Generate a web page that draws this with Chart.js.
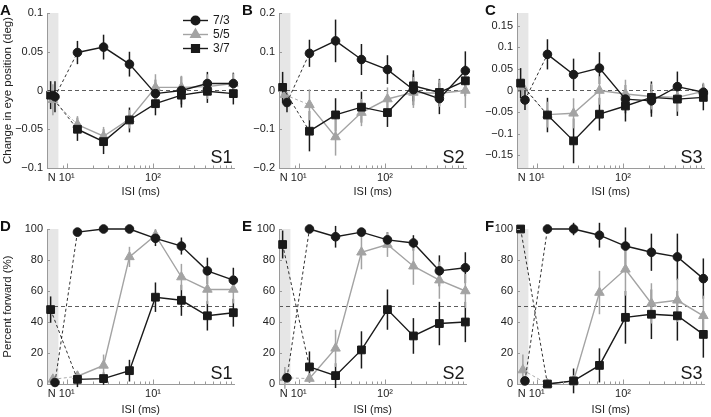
<!DOCTYPE html>
<html lang="en">
<head>
<meta charset="UTF-8">
<title>Eye position and percent forward vs ISI</title>
<script src="https://cdn.jsdelivr.net/npm/chart.js@4"></script>
<style>
  body { margin: 0; background: #fff; }
  #wrap { position: relative; width: 711px; height: 417px; overflow: hidden; font-family: "Liberation Sans", Arial, sans-serif; }
  #wrap canvas { position: absolute; }
  .letter { position: absolute; font-weight: bold; font-size: 15px; line-height: 15px; color: #111; }
</style>
</head>
<body>
<div id="wrap">
  <canvas id="cA"></canvas><canvas id="cB"></canvas><canvas id="cC"></canvas>
  <canvas id="cD"></canvas><canvas id="cE"></canvas><canvas id="cF"></canvas>
  <div class="letter" style="left:0px;top:2px">A</div>
  <div class="letter" style="left:242px;top:2px">B</div>
  <div class="letter" style="left:485px;top:2px">C</div>
  <div class="letter" style="left:0px;top:218px">D</div>
  <div class="letter" style="left:242px;top:218px">E</div>
  <div class="letter" style="left:485px;top:218px">F</div>
</div>
<script>
// ISI values (ms) and the x position used for the "N" condition of each series
const isi = [13.3, 26.7, 53.3, 106.7, 213.3, 426.7, 853.3];
const nX = { c73: 7.3, t55: 6.9, s37: 6.5 };
const shadeMax = 8;
const xMinorTicks = [9, 20, 30, 40, 50, 60, 70, 80, 90, 200, 300, 400, 500, 600, 700, 800];
const xMajorTicks = [10, 100];
const xLabelTicks = [6.7, 10, 100];

// first value of each series = N condition, then one value per ISI
// A: change in eye position, S1
const a73 = [-0.008, 0.049, 0.056, 0.034, -0.004, 0.0, 0.009, 0.009];
const a73e = [0.02, 0.015, 0.016, 0.016, 0.018, 0.018, 0.015, 0.014];
const a55 = [-0.012, -0.044, -0.059, -0.037, 0.004, 0.004, 0.005, 0.009];
const a55e = [0.02, 0.011, 0.012, 0.012, 0.017, 0.015, 0.016, 0.013];
const a37 = [-0.006, -0.05, -0.066, -0.038, -0.017, -0.006, -0.001, -0.004];
const a37e = [0.018, 0.015, 0.016, 0.016, 0.015, 0.016, 0.015, 0.014];
// B: S2
const b73 = [-0.031, 0.096, 0.128, 0.080, 0.054, 0.002, -0.021, 0.051];
const b73e = [0.025, 0.035, 0.055, 0.04, 0.037, 0.04, 0.04, 0.05];
const b55 = [-0.011, -0.037, -0.12, -0.057, -0.022, -0.005, -0.007, 0.0];
const b55e = [0.03, 0.04, 0.048, 0.035, 0.03, 0.04, 0.035, 0.045];
const b37 = [0.008, -0.105, -0.063, -0.043, -0.057, 0.012, -0.005, 0.025];
const b37e = [0.04, 0.052, 0.043, 0.04, 0.037, 0.04, 0.035, 0.04];
// C: S3
const c73 = [-0.022, 0.084, 0.037, 0.052, -0.02, -0.024, 0.009, -0.004];
const c73e = [0.023, 0.035, 0.037, 0.037, 0.033, 0.037, 0.035, 0.02];
const c55 = [0.008, -0.056, -0.053, 0.0, -0.008, -0.014, -0.016, -0.002];
const c55e = [0.02, 0.03, 0.035, 0.033, 0.033, 0.03, 0.033, 0.02];
const c37 = [0.017, -0.057, -0.117, -0.055, -0.036, -0.016, -0.02, -0.016];
const c37e = [0.035, 0.04, 0.052, 0.038, 0.036, 0.037, 0.039, 0.03];
// D: percent forward, S1
const d73 = [1, 98, 100, 100, 94, 89, 73, 67];
const d73e = [2, 2, 2, 1, 5, 5.5, 8.5, 8];
const d55 = [3, 5, 12, 82, 96, 69, 61, 61];
const d55e = [2, 3, 7, 6.5, 4, 8.5, 9.5, 9];
const d37 = [48, 3, 3.5, 8.6, 56, 54, 44, 46];
const d37e = [8.5, 5, 4, 7, 9.5, 10, 9.5, 9];
// E: S2
const e73 = [4, 100, 95, 98, 93, 91, 73, 75];
const e73e = [2, 1, 7, 2.5, 5, 5, 10, 10];
const e55 = [4, 3.5, 23, 85, 90, 76, 67, 60];
const e55e = [7, 2, 12, 11, 8, 12, 12, 11];
const e37 = [90, 11, 5.4, 22, 48, 31, 39, 40];
const e37e = [9, 10, 8, 12, 13, 11.5, 14, 13];
// F: S3
const f73 = [2, 100, 100, 96, 89, 85, 82, 68];
const f73e = [2, 1, 4, 8, 12, 12, 15, 13];
const f55 = [9, 0, 2, 59, 74, 52, 54, 44];
const f55e = [10, 1, 3, 14, 17, 13, 14, 13];
const f37 = [100, 0, 2, 12, 43, 45, 44, 32];
const f37e = [2, 1, 8, 11, 17, 16, 16, 15];

// axis ticks
const yTicksA = [-0.1, -0.05, 0, 0.05, 0.1];
const yTicksB = [-0.2, -0.1, 0, 0.1, 0.2];
const yTicksC = [-0.15, -0.1, -0.05, 0, 0.05, 0.1, 0.15];
const yTicksPct = [0, 20, 40, 60, 80, 100];
const xLabelsStd = ['N', '10\u00b9', '10\u00b2'];
const xLabelsD = ['N', '10\u00b9', '10\u00b9'];

const ink = '#1a1a1a';
const grey = '#a3a3a3';
const axisCol = '#9a9a9a';
const fontFam = '"Liberation Sans", Arial, sans-serif';

const Y_W = 46, PAD_T = 14, PAD_R = 2, PLOT_W = 192, PLOT_H = 155;

function series(vals, nx) {
  return [{ x: nx, y: vals[0] }].concat(isi.map((x, i) => ({ x: x, y: vals[i + 1] })));
}

function ds(label, vals, errs, nx, color, style, radius, order) {
  return {
    label: label, data: series(vals, nx), errs: errs,
    borderColor: color, backgroundColor: color,
    pointStyle: style, pointRadius: radius, pointBorderWidth: 1,
    borderWidth: 1.4, order: order, clip: false,
    segment: {
      borderDash: ctx => ctx.p0DataIndex === 0 ? [3, 2.5] : undefined,
      borderWidth: ctx => ctx.p0DataIndex === 0 ? 0.9 : undefined
    }
  };
}

const deco = {
  id: 'deco',
  beforeDraw(chart, args, o) {
    const { ctx, chartArea: a, scales: { x, y } } = chart;
    ctx.save();
    ctx.fillStyle = '#e6e6e6';
    const xr = x.getPixelForValue(shadeMax);
    ctx.fillRect(a.left + 1, a.top, xr - a.left - 1, a.bottom - a.top);
    const yr = y.getPixelForValue(o.ref);
    ctx.strokeStyle = '#333';
    ctx.lineWidth = 0.8;
    ctx.setLineDash([4, 3]);
    ctx.beginPath();
    ctx.moveTo(a.left, yr);
    ctx.lineTo(a.right, yr);
    ctx.stroke();
    ctx.restore();
  },
  beforeDatasetsDraw(chart) {
    const { ctx, scales: { y } } = chart;
    ctx.save();
    chart.data.datasets.forEach((d, i) => {
      const meta = chart.getDatasetMeta(i);
      ctx.strokeStyle = d.borderColor;
      ctx.lineWidth = 1.5;
      d.data.forEach((p, j) => {
        const px = meta.data[j].x;
        ctx.beginPath();
        ctx.moveTo(px, y.getPixelForValue(p.y - d.errs[j]));
        ctx.lineTo(px, y.getPixelForValue(p.y + d.errs[j]));
        ctx.stroke();
      });
    });
    ctx.restore();
  },
  afterDraw(chart, args, o) {
    const { ctx, chartArea: a, scales: { x, y } } = chart;
    ctx.save();
    ctx.strokeStyle = axisCol;
    ctx.lineWidth = 1;
    ctx.beginPath();
    xMinorTicks.forEach(v => {
      const px = Math.round(x.getPixelForValue(v)) + 0.5;
      ctx.moveTo(px, a.bottom); ctx.lineTo(px, a.bottom - 2.5);
    });
    xMajorTicks.forEach(v => {
      const px = Math.round(x.getPixelForValue(v)) + 0.5;
      ctx.moveTo(px, a.bottom); ctx.lineTo(px, a.bottom - 4.5);
    });
    o.yTicks.forEach(v => {
      const py = Math.round(y.getPixelForValue(v)) + 0.5;
      ctx.moveTo(a.left, py); ctx.lineTo(a.left + 3, py);
    });
    ctx.stroke();
    // subject label
    ctx.fillStyle = ink;
    ctx.font = '18px ' + fontFam;
    ctx.textAlign = 'right';
    ctx.textBaseline = 'alphabetic';
    ctx.fillText(o.sLabel, a.right - 2, a.bottom - 5);
    if (o.legend) {
      const rows = [0, 2, 1];
      ctx.font = '12px ' + fontFam;
      ctx.textAlign = 'left';
      ctx.textBaseline = 'middle';
      rows.forEach((di, k) => {
        const d = chart.data.datasets[di];
        const ly = a.top + 7.5 + 14 * k;
        const lx = a.left + 136;
        ctx.strokeStyle = d.borderColor;
        ctx.fillStyle = d.borderColor;
        ctx.lineWidth = 1.4;
        ctx.setLineDash([]);
        ctx.beginPath();
        ctx.moveTo(lx, ly); ctx.lineTo(lx + 25, ly);
        ctx.stroke();
        Chart.helpers.drawPoint(ctx, { pointStyle: d.pointStyle, radius: d.pointRadius, borderWidth: 1, rotation: 0 }, lx + 12.5, ly);
        ctx.fillStyle = ink;
        ctx.fillText(d.label, lx + 30, ly + 0.5);
      });
    }
    ctx.restore();
  }
};

function fmt(v) {
  const s = String(Math.abs(Math.round(v * 1000) / 1000));
  return v < 0 ? '\u2212' + s : s;
}

function panel(id, left, top, xAxisH, vals, yOpt) {
  const cv = document.getElementById(id);
  const W = Y_W + PLOT_W + PAD_R, H = PAD_T + PLOT_H + xAxisH;
  cv.width = W; cv.height = H;
  cv.style.left = (left - Y_W) + 'px';
  cv.style.top = (top - PAD_T) + 'px';
  cv.style.width = W + 'px'; cv.style.height = H + 'px';
  const tickFont = { family: fontFam, size: 11 };
  new Chart(cv, {
    type: 'line',
    data: {
      datasets: [
        ds('7/3', vals[0], vals[1], nX.c73, ink, 'circle', 4.3, 1),
        ds('3/7', vals[4], vals[5], nX.s37, ink, 'rect', 5.5, 1),
        ds('5/5', vals[2], vals[3], nX.t55, grey, 'triangle', 5.5, 2)
      ]
    },
    options: {
      responsive: false, animation: false, events: [],
      layout: { padding: { top: PAD_T, right: PAD_R, left: 0, bottom: 0 } },
      plugins: {
        legend: { display: false }, tooltip: { enabled: false },
        deco: { ref: yOpt.ref, sLabel: yOpt.s, legend: yOpt.legend, yTicks: yOpt.ticks }
      },
      scales: {
        x: {
          type: 'logarithmic', min: 5.9, max: 880,
          afterBuildTicks: s => { s.ticks = xLabelTicks.map(v => ({ value: v })); },
          afterFit: s => { s.height = xAxisH; },
          grid: { display: false, drawTicks: false },
          border: { display: true, color: axisCol, width: 1 },
          ticks: { autoSkip: false, maxRotation: 0, padding: 3, color: '#222', font: tickFont,
                   callback: (v, i) => yOpt.xLabels[i] },
          title: { display: true, text: 'ISI (ms)', color: '#222', font: { family: fontFam, size: 11 }, padding: { top: 0, bottom: 2 } }
        },
        y: {
          min: yOpt.min, max: yOpt.max,
          afterBuildTicks: s => { s.ticks = yOpt.ticks.map(v => ({ value: v })); },
          afterFit: s => { s.width = Y_W; },
          grid: { display: false, drawTicks: false },
          border: { display: true, color: axisCol, width: 1 },
          ticks: { padding: 4, color: '#222', font: tickFont, callback: v => fmt(v) },
          title: { display: !!yOpt.title, text: yOpt.title || '', color: '#222', font: { family: fontFam, size: 11.5 }, padding: { top: 0, bottom: 0 } }
        }
      }
    },
    plugins: [deco]
  });
}

const TOP1 = 13.3, TOP2 = 229.3;
panel('cA', 46.7, TOP1, 33, [a73, a73e, a55, a55e, a37, a37e],
  { min: -0.1, max: 0.1, ticks: yTicksA, ref: 0, s: 'S1', legend: true, xLabels: xLabelsStd, title: 'Change in eye position (deg)' });
panel('cB', 279.3, TOP1, 33, [b73, b73e, b55, b55e, b37, b37e],
  { min: -0.2, max: 0.2, ticks: yTicksB, ref: 0, s: 'S2', xLabels: xLabelsStd });
panel('cC', 517.3, TOP1, 33, [c73, c73e, c55, c55e, c37, c37e],
  { min: -0.18, max: 0.18, ticks: yTicksC, ref: 0, s: 'S3', xLabels: xLabelsStd });
panel('cD', 46.7, TOP2, 35, [d73, d73e, d55, d55e, d37, d37e],
  { min: 0, max: 100, ticks: yTicksPct, ref: 50, s: 'S1', xLabels: xLabelsD, title: 'Percent forward (%)' });
panel('cE', 279.3, TOP2, 35, [e73, e73e, e55, e55e, e37, e37e],
  { min: 0, max: 100, ticks: yTicksPct, ref: 50, s: 'S2', xLabels: xLabelsStd });
panel('cF', 517.3, TOP2, 35, [f73, f73e, f55, f55e, f37, f37e],
  { min: 0, max: 100, ticks: yTicksPct, ref: 50, s: 'S3', xLabels: xLabelsStd });
</script>
</body>
</html>
